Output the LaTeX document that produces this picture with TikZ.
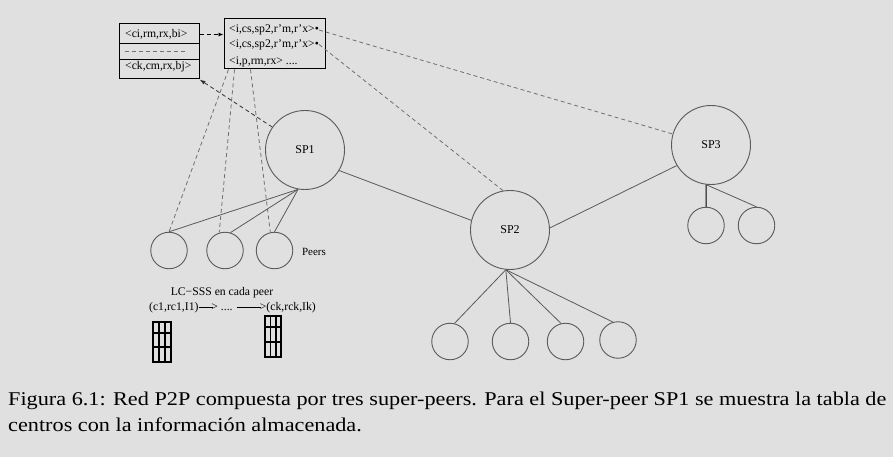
\documentclass[tikz,border=0pt]{standalone}
\usepackage{fontspec}
\setmainfont{Liberation Serif}
\newfontfamily\capfont[FakeStretch=1.14]{Liberation Serif}
\usetikzlibrary{arrows.meta,calc}
\definecolor{bg}{HTML}{E0E0E0}
\definecolor{circ}{HTML}{5A5A5A}
\definecolor{dsh}{HTML}{707070}
\begin{document}
\begin{tikzpicture}[x=1pt,y=-1pt,
  sp/.style={circle,draw=circ,line width=0.9pt,minimum size=79pt,inner sep=0pt,font=\fontsize{12}{14}\selectfont},
  peer/.style={circle,draw=circ,line width=0.9pt,minimum size=36.5pt,inner sep=0pt},
  link/.style={draw=circ,line width=0.8pt},
  dline/.style={draw=dsh,line width=0.8pt,dash pattern=on 4pt off 3pt},
  txt/.style={inner sep=0pt,font=\fontsize{11.7}{13}\selectfont},
  boxline/.style={draw=black,line width=1pt},
  gridline/.style={draw=black,line width=1.1pt},
  captxt/.style={inner sep=0pt,anchor=base west,font=\capfont\fontsize{19.5}{26}\selectfont}]
\useasboundingbox (0,0) rectangle (893,457);
\fill[bg] (0,0) rectangle (893,457);

% tables
\node[boxline,draw,minimum width=80pt,minimum height=55pt,inner sep=0pt] (lbox) at (159,51.5) {};
\draw[boxline] ($(lbox.north west)+(0,20)$) -- ($(lbox.north east)+(0,20)$);
\draw[boxline] ($(lbox.north west)+(0,36)$) -- ($(lbox.north east)+(0,36)$);
\draw[dline,line width=0.6pt] ($(lbox.north west)+(6,28)$) -- ($(lbox.north west)+(68,28)$);
\node[txt,anchor=west] (l1) at (125,34.5) {<ci,rm,rx,bi>};
\node[txt,anchor=west] (l3) at (125,67) {<ck,cm,rx,bj>};

\node[boxline,draw,minimum width=101pt,minimum height=50pt,inner sep=0pt] (rbox) at (274.5,44) {};
\node[txt,anchor=west] (r1) at (229,30) {<i,cs,sp2,r’m,r’x>•};
\node[txt,anchor=west] (r2) at (229,44.5) {<i,cs,sp2,r’m,r’x>•};
\node[txt,anchor=west] (r3) at (229,61.5) {<i,p,rm,rx> ....};

% super-peers
\node[sp] (sp1) at (305,150) {SP1};
\node[sp] (sp2) at (510,230) {SP2};
\node[sp] (sp3) at (711,145) {SP3};

% peers
\node[peer] (p1) at (169,250.5) {};
\node[peer] (p2) at (225,250.5) {};
\node[peer] (p3) at (274.5,250.5) {};
\node[txt,font=\fontsize{11}{13}\selectfont] (plab) at (314,252) {Peers};

\node[peer] (q1) at (450,341.5) {};
\node[peer] (q2) at (510.5,341.5) {};
\node[peer] (q3) at (565.5,341.5) {};
\node[peer] (q4) at (618,340) {};

\node[peer] (s1) at (706,225.5) {};
\node[peer] (s2) at (756.5,225.5) {};

% links
\draw[link] (sp1.-31) -- (sp2.166);
\draw[link] (sp2.3) -- (sp3.-149);
\coordinate (b1) at (sp1.-100);
\draw[link] (b1) -- (p1.north);
\draw[link] (b1) -- (p2.73);
\draw[link] (b1) -- (p3.north);
\coordinate (b2) at (sp2.-96);
\draw[link] (b2) -- (q1.76);
\draw[link] (b2) -- (q2.north);
\draw[link] (b2) -- (q3.104);
\draw[link] (b2) -- (q4.106);
\coordinate (b3) at (sp3.-97);
\draw[link,draw=black,line width=1pt] (b3) -- (s1.north);
\draw[link] (b3) -- (s2.north);

% dashed references
\draw[dline] ($(rbox.south west)+(5,0)$) -- (p1.north);
\draw[dline] ($(rbox.south west)+(11,0)$) -- (p2.108);
\draw[dline] ($(rbox.south west)+(27,0)$) -- (p3.103);
\draw[dline] (r1.east) -- (sp3.164);
\draw[dline] (r2.east) -- (sp2.100);
\draw[dline,draw=black,-{Latex[length=5pt,width=4pt]}] (lbox.east |- l1) -- (rbox.west |- l1);
\draw[dline,draw=black!80,-{Latex[length=6pt,width=4pt]}] (sp1.145) -- (lbox.south east);

% LC-SSS
\node[txt] (lc) at (222,293) {LC−SSS en cada peer};
\node[txt] (seq) at (232.5,308) {(c1,rc1,I1)\rule[0.3em]{1.2em}{0.5pt}\kern-0.1em> .... \rule[0.3em]{2.1em}{0.5pt}\kern-0.1em>(ck,rck,Ik)};

% grids
\draw[gridline] (153,322) rectangle (171,362);
\draw[gridline] (159,322) -- (159,362) (165,322) -- (165,362) (153,333) -- (171,333) (153,347) -- (171,347);
\draw[gridline] (265,316) rectangle (281,357);
\draw[gridline] (270.5,316) -- (270.5,357) (276,316) -- (276,357) (265,327) -- (281,327) (265,342) -- (281,342);

% caption
\node[captxt] (cap1) at (8,405) {Figura 6.1: Red P2P compuesta por tres super-peers. Para el Super-peer SP1 se muestra la tabla de};
\node[captxt] (cap2) at (8,431) {centros con la información almacenada.};
\end{tikzpicture}
\end{document}
